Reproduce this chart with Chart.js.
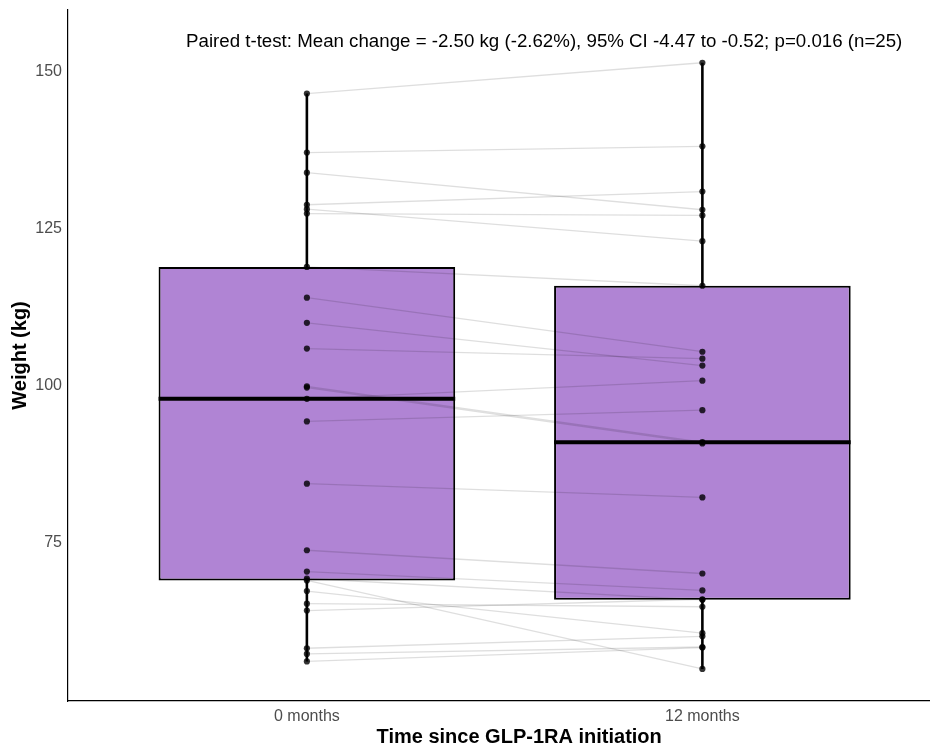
<!DOCTYPE html>
<html>
<head>
<meta charset="utf-8">
<title>Weight before and after GLP-1RA</title>
<script src="https://cdn.jsdelivr.net/npm/chart.js@4.4.0/dist/chart.umd.min.js"></script>
<style>
  html, body { margin: 0; padding: 0; background: #fff; }
  #wrap { width: 933px; height: 748px; }
</style>
</head>
<body>
<div id="wrap"><canvas id="chartWeight"></canvas></div>
<script>
/*---------------------------------DATA---------------------------------------*/
// x-axel kategorier
const categories = ['0 months', '12 months'];

// vikt per patient, samma ordning i båda listorna (parade)
const weightMonth0 = [
  146.5, 137.1, 133.9, 128.8, 128.1, 127.4, 118.9, 114.0, 110.0, 105.9,
  99.9, 99.7, 97.9, 94.3, 84.4, 73.8, 70.4, 69.3, 69.0, 67.3,
  65.3, 64.2, 58.2, 57.3, 56.1
];
const weightMonth12 = [
  151.4, 138.1, 128.0, 130.9, 123.0, 127.1, 115.9, 105.4, 103.2, 104.3,
  91.0, 90.8, 100.8, 96.1, 82.2, 70.1, 67.4, 65.9, 54.9, 60.6,
  64.8, 66.0, 60.1, 58.4, 58.3
];

// y-axel ticks
const yTicks = [75, 100, 125, 150];

// texter
const noteText = 'Paired t-test: Mean change = -2.50 kg (-2.62%), 95% CI -4.47 to -0.52; p=0.016 (n=25)';
const notePos = [1.6, 154.8];
const xTitle = 'Time since GLP-1RA initiation';
const yTitle = 'Weight (kg)';

/*--------------------------------HELPERS-------------------------------------*/
// kvantil som R type 7
function quantile(arr, p) {
  const s = [...arr].sort((a, b) => a - b);
  const pos = (s.length - 1) * p;
  const lo = Math.floor(pos);
  const hi = Math.ceil(pos);
  return s[lo] + (s[hi] - s[lo]) * (pos - lo);
}

const groups = [weightMonth0, weightMonth12];
const halfBox = 0.375;
const FONT = '"Liberation Sans", Arial, sans-serif';

const stats = groups.map((g, i) => ({
  x: i + 1,
  min: Math.min(...g),
  q1: quantile(g, 0.25),
  med: quantile(g, 0.5),
  q3: quantile(g, 0.75),
  max: Math.max(...g),
}));

/*-------------------------------DATASETS-------------------------------------*/
const datasets = [];

// whiskers (ligger under boxen)
stats.forEach((s) => {
  datasets.push({
    type: 'line',
    data: [{ x: s.x, y: s.min }, { x: s.x, y: s.max }],
    borderColor: '#000',
    borderWidth: 2.6,
    pointRadius: 0,
    order: 5,
  });
});

// boxar
datasets.push({
  type: 'bar',
  data: stats.map((s) => ({ x: s.x, y: [s.q1, s.q3] })),
  backgroundColor: 'rgb(176, 132, 212)',
  borderColor: '#000',
  borderWidth: 2,
  borderSkipped: false,
  categoryPercentage: 0.8,
  barPercentage: 0.9375,
  order: 4,
});

// parade linjer
weightMonth0.forEach((v, i) => {
  datasets.push({
    type: 'line',
    data: [{ x: 1, y: v }, { x: 2, y: weightMonth12[i] }],
    borderColor: 'rgba(0, 0, 0, 0.13)',
    borderWidth: 1.3,
    pointRadius: 0,
    order: 3,
  });
});

// median
stats.forEach((s) => {
  datasets.push({
    type: 'line',
    data: [{ x: s.x - halfBox, y: s.med }, { x: s.x + halfBox, y: s.med }],
    borderColor: '#000',
    borderWidth: 4,
    pointRadius: 0,
    order: 2,
  });
});

// punkter
groups.forEach((g, i) => {
  datasets.push({
    type: 'scatter',
    data: g.map((v) => ({ x: i + 1, y: v })),
    backgroundColor: 'rgba(0, 0, 0, 0.8)',
    borderWidth: 0,
    pointRadius: 3.1,
    order: 1,
  });
});

/*-------------------------------PLUGIN---------------------------------------*/
// t-test texten inne i plotten + x-axelns titel
const notePlugin = {
  id: 'ttestNote',
  afterDatasetsDraw(chart) {
    const { ctx, chartArea, scales: { x, y } } = chart;
    ctx.save();
    ctx.font = '18.7px ' + FONT;
    ctx.fillStyle = '#000';
    ctx.textAlign = 'center';
    ctx.textBaseline = 'middle';
    ctx.fillText(noteText, x.getPixelForValue(notePos[0]), y.getPixelForValue(notePos[1]));

    //x titel, lite höger om mitten som i originalet
    ctx.font = 'bold 20px ' + FONT;
    const cx = chartArea.left + (chartArea.right - chartArea.left) * 0.524;
    ctx.fillText(xTitle, cx, chart.height - 11);
    ctx.restore();
  },
};

/*-------------------------------CHART----------------------------------------*/
new Chart(document.getElementById('chartWeight'), {
  type: 'scatter',
  data: { datasets },
  plugins: [notePlugin],
  options: {
    responsive: true,
    maintainAspectRatio: false,
    animation: false,
    layout: { padding: { top: 10, right: 0, bottom: 0, left: 0 } },
    plugins: {
      legend: { display: false },
      tooltip: { enabled: false },
    },
    scales: {
      x: {
        type: 'linear',
        min: 0.396,
        max: 2.573,
        offset: false,
        grid: { display: false, drawTicks: false, offset: false },
        border: { display: true, color: '#000', width: 1.2 },
        afterBuildTicks: (scale) => {
          scale.ticks = categories.map((c, i) => ({ value: i + 1 }));
        },
        afterFit: (scale) => {
          scale.height = 47;
          scale.paddingLeft = 0;
          scale.paddingRight = 0;
        },
        ticks: {
          padding: 6,
          color: '#4d4d4d',
          font: { size: 16, family: FONT },
          callback: (v) => categories[v - 1],
        },
        title: { display: false },
      },
      y: {
        type: 'linear',
        min: 49.8,
        max: 159.8,
        grid: { display: false, drawTicks: false },
        border: { display: true, color: '#000', width: 1.2 },
        afterBuildTicks: (scale) => {
          scale.ticks = yTicks.map((v) => ({ value: v }));
        },
        afterFit: (scale) => {
          scale.width = 68;
          scale.paddingTop = 0;
          scale.paddingBottom = 0;
        },
        ticks: {
          padding: 6,
          color: '#4d4d4d',
          font: { size: 16, family: FONT },
        },
        title: {
          display: true,
          text: yTitle,
          color: '#000',
          font: { size: 20, weight: 'bold', family: FONT, lineHeight: 1.1 },
          padding: { top: 9, bottom: 0 },
        },
      },
    },
  },
});
</script>
</body>
</html>
